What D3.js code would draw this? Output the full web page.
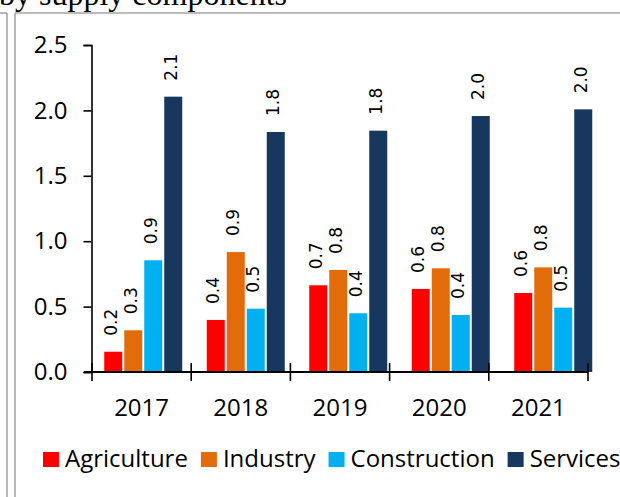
<!DOCTYPE html>
<html>
<head>
<meta charset="utf-8">
<script src="https://cdn.jsdelivr.net/npm/d3@7"></script>
<style>
  html, body { margin: 0; padding: 0; background: #fff; overflow: hidden; }
  svg { display: block; }
  text { font-variant-ligatures: none; }
</style>
</head>
<body>
<svg id="chart" width="620" height="497"></svg>
<script>
// ---- data ----
const years = ["2017", "2018", "2019", "2020", "2021"];
const seriesNames = ["Agriculture", "Industry", "Construction", "Services"];
const seriesColors = ["#FF0000", "#E36C0A", "#00B0F0", "#17375E"];
const agriculture = [0.155, 0.398, 0.663, 0.635, 0.604];
const industry = [0.319, 0.917, 0.780, 0.793, 0.800];
const construction = [0.854, 0.484, 0.449, 0.436, 0.492];
const services = [2.105, 1.835, 1.845, 1.957, 2.008];
const yTicks = [0, 0.5, 1.0, 1.5, 2.0, 2.5];
const titleText = "by supply components";

const seriesValues = [agriculture, industry, construction, services];

const svg = d3.select("#chart");
const labelFont = "'Open Sans', Lato, sans-serif";
const labelSize = 24;

// frame lines
const frame = svg.append("g").attr("stroke", "#a6a6a6").attr("stroke-width", 1.6).attr("fill", "none");
frame.append("line").attr("x1", 7).attr("x2", 7).attr("y1", 13).attr("y2", 497);
frame.append("line").attr("x1", -2).attr("x2", 7).attr("y1", 13).attr("y2", 13);
frame.append("line").attr("x1", 15).attr("x2", 15).attr("y1", 13).attr("y2", 497);
frame.append("line").attr("x1", 15).attr("x2", 622).attr("y1", 13).attr("y2", 13);

// title (cut at top, as in the reference)
svg.append("text")
  .attr("x", -1).attr("y", 5)
  .attr("font-family", "'Liberation Serif', 'Times New Roman', serif")
  .attr("font-size", 32)
  .attr("fill", "#000")
  .text(titleText);

// scales
const y = d3.scaleLinear().domain([0, 2.5]).range([372, 45]);
const xAxisScale = d3.scaleBand().domain(years).range([92, 588]).padding(0);
const xGroups = d3.scaleBand().domain(years).range([92, 604.5]).paddingInner(0.239).paddingOuter(0.1195);
const xInner = d3.scaleBand().domain(seriesNames).range([0, xGroups.bandwidth()]).paddingInner(0.1);

// y axis
const yAxis = d3.axisLeft(y).tickValues(yTicks).tickFormat(d3.format(".1f")).tickSize(8).tickPadding(16);
const gy = svg.append("g").attr("transform", "translate(91.5,0)").call(yAxis);
gy.select(".domain").attr("stroke", "#000").attr("stroke-width", 1.6);
gy.selectAll(".tick line").attr("stroke", "#000").attr("stroke-width", 1.6);
gy.selectAll(".tick text").attr("font-family", labelFont).attr("font-size", labelSize).attr("fill", "#000");

// bars
const groups = svg.append("g").selectAll("g")
  .data(years)
  .join("g")
  .attr("transform", d => `translate(${xGroups(d)},0)`);

groups.selectAll("rect")
  .data((d, i) => seriesNames.map((s, k) => ({ s, k, v: seriesValues[k][i] })))
  .join("rect")
  .attr("x", d => xInner(d.s))
  .attr("width", xInner.bandwidth())
  .attr("y", d => y(d.v))
  .attr("height", d => y(0) - y(d.v))
  .attr("fill", d => seriesColors[d.k]);

groups.selectAll("text")
  .data((d, i) => seriesNames.map((s, k) => ({ s, k, v: seriesValues[k][i] })))
  .join("text")
  .attr("transform", d => `translate(${xInner(d.s) + xInner.bandwidth() / 2 + 3.5},${y(d.v) - 16}) rotate(-90)`)
  .attr("font-family", "'DejaVu Sans', sans-serif")
  .attr("font-size", 17)
  .attr("fill", "#000")
  .attr("text-anchor", "start")
  .text(d => d.v.toFixed(1));

// x axis
const xAxisG = svg.append("g").attr("transform", "translate(0,372)");
xAxisG.append("line")
  .attr("x1", 84).attr("x2", xAxisScale.range()[1])
  .attr("stroke", "#000").attr("stroke-width", 2);
const boundaries = years.map(d => xAxisScale(d)).concat([xAxisScale.range()[1]]);
xAxisG.selectAll("line.tk")
  .data(boundaries)
  .join("line")
  .attr("class", "tk")
  .attr("x1", d => d).attr("x2", d => d)
  .attr("y1", -9).attr("y2", 9)
  .attr("stroke", "#000").attr("stroke-width", 1.6);
xAxisG.selectAll("text")
  .data(years)
  .join("text")
  .attr("x", d => xAxisScale(d) + xAxisScale.bandwidth() / 2)
  .attr("y", 44)
  .attr("text-anchor", "middle")
  .attr("font-family", labelFont)
  .attr("font-size", labelSize)
  .attr("fill", "#000")
  .text(d => d);

// legend
const legend = svg.append("g").attr("transform", "translate(43,0)");
let lx = 0;
seriesNames.forEach((name, k) => {
  legend.append("rect")
    .attr("x", lx).attr("y", 452)
    .attr("width", 16).attr("height", 15)
    .attr("fill", seriesColors[k]);
  const t = legend.append("text")
    .attr("x", lx + 22).attr("y", 467)
    .attr("font-family", labelFont)
    .attr("font-size", labelSize)
    .attr("fill", "#000")
    .text(name);
  lx += 22 + t.node().getComputedTextLength() + 13;
});
</script>
</body>
</html>
